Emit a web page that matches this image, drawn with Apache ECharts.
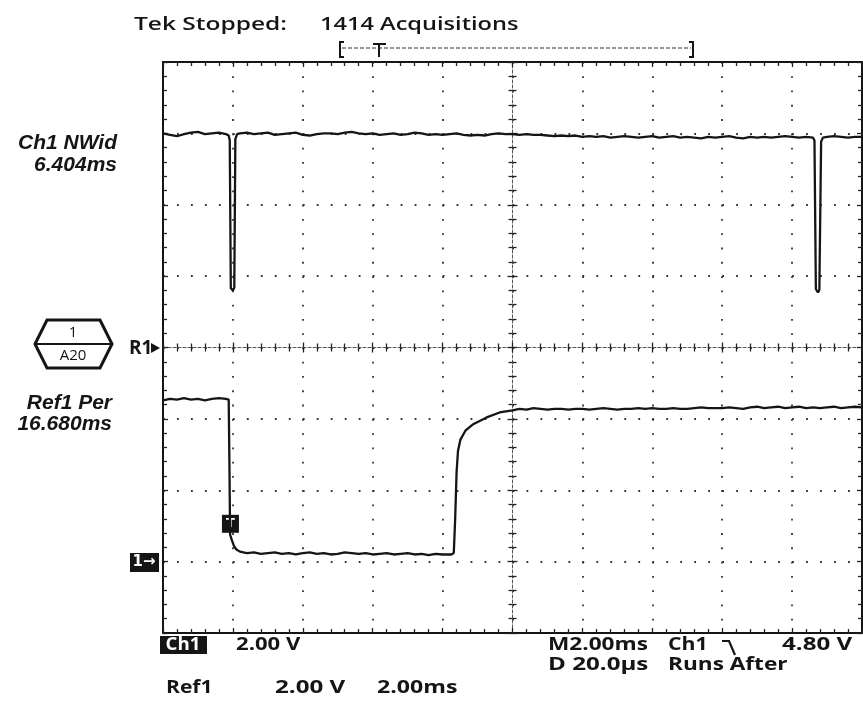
<!DOCTYPE html>
<html><head><meta charset="utf-8">
<script src="https://cdn.jsdelivr.net/npm/echarts@6/dist/echarts.min.js"></script>
<style>html,body{margin:0;padding:0;background:#fff;}#c{width:863px;height:702px;}</style>
</head><body><div id="c"></div>
<script>
// ---- data (time in ms, amplitude in screen divisions from centre) ----
const ch1Time = [0,0.2,0.4,0.6,0.8,1.0,1.2,1.4,1.6,1.8,1.88,1.91,1.94,2.00,2.04,2.07,2.12,
  2.2,2.4,2.6,2.8,3.0,3.2,3.4,3.6,3.8,4.0,4.2,4.4,4.6,4.8,5.0,5.2,5.4,5.6,5.8,6.0,6.2,6.4,6.6,6.8,
  7.0,7.2,7.4,7.6,7.8,8.0,8.2,8.4,8.6,8.8,9.0,9.2,9.4,9.6,9.8,10.0,10.2,10.4,10.6,10.8,11.0,11.2,
  11.4,11.6,11.8,12.0,12.2,12.4,12.6,12.8,13.0,13.2,13.4,13.6,13.8,14.0,14.2,14.4,14.6,14.8,15.0,
  15.2,15.4,15.6,15.8,16.0,16.2,16.4,16.6,16.8,17.0,17.2,17.4,17.6,17.8,18.0,18.2,18.4,18.6,
  18.64,18.68,18.74,18.78,18.83,18.88,19.0,19.2,19.4,19.6,19.8,20.0];
const ch1Div = [3.00,2.98,2.96,2.99,3.01,3.02,2.99,3.00,3.01,2.99,2.97,2.90,0.83,0.80,0.84,2.92,2.99,
  3.00,3.01,2.99,3.00,3.01,2.98,2.99,3.00,3.01,2.98,2.97,2.99,3.00,3.00,2.99,3.01,3.02,3.00,2.99,3.00,2.98,2.99,3.00,2.98,
  2.99,3.01,3.00,2.98,2.99,2.98,2.99,3.00,2.98,2.97,2.98,2.97,2.99,3.00,2.99,2.99,2.98,2.99,2.98,2.98,2.97,2.96,
  2.97,2.96,2.97,2.95,2.96,2.95,2.96,2.94,2.95,2.96,2.95,2.94,2.95,2.96,2.94,2.95,2.96,2.94,2.95,
  2.94,2.93,2.95,2.94,2.95,2.96,2.94,2.93,2.95,2.94,2.95,2.94,2.95,2.96,2.95,2.94,2.95,2.94,
  2.90,0.82,0.77,0.81,2.88,2.94,2.95,2.96,2.95,2.94,2.95,2.95];

const ref1Time = [0,0.2,0.4,0.6,0.8,1.0,1.2,1.4,1.6,1.8,1.88,1.90,1.92,1.97,2.03,2.10,
  2.2,2.4,2.6,2.8,3.0,3.2,3.4,3.6,3.8,4.0,4.2,4.4,4.6,4.8,5.0,5.2,5.4,5.6,5.8,6.0,6.2,6.4,6.6,6.8,
  7.0,7.2,7.4,7.6,7.8,8.0,8.25,8.32,8.36,8.40,8.44,8.51,8.66,8.86,9.26,9.63,
  10.0,10.2,10.4,10.6,10.8,11.0,11.2,11.4,11.6,11.8,12.0,12.2,12.4,12.6,12.8,13.0,13.2,13.4,13.6,13.8,
  14.0,14.2,14.4,14.6,14.8,15.0,15.2,15.4,15.6,15.8,16.0,16.2,16.4,16.6,16.8,17.0,17.2,17.4,17.6,17.8,
  18.0,18.2,18.4,18.6,18.8,19.0,19.2,19.4,19.6,19.8,20.0];
const ref1Div = [-0.74,-0.72,-0.73,-0.71,-0.73,-0.72,-0.74,-0.72,-0.71,-0.72,-0.73,-1.60,-2.62,-2.70,-2.78,-2.83,
  -2.86,-2.88,-2.87,-2.89,-2.88,-2.87,-2.89,-2.88,-2.90,-2.88,-2.87,-2.89,-2.88,-2.90,-2.89,-2.87,-2.88,-2.89,-2.88,-2.90,-2.89,-2.88,-2.90,-2.89,
  -2.88,-2.90,-2.89,-2.91,-2.89,-2.90,-2.90,-2.88,-2.40,-1.75,-1.45,-1.29,-1.16,-1.08,-0.98,-0.91,
  -0.88,-0.86,-0.87,-0.85,-0.86,-0.87,-0.86,-0.86,-0.87,-0.86,-0.86,-0.87,-0.86,-0.85,-0.86,-0.87,-0.86,-0.86,-0.85,-0.86,
  -0.85,-0.86,-0.86,-0.85,-0.86,-0.86,-0.85,-0.84,-0.85,-0.85,-0.85,-0.84,-0.85,-0.86,-0.84,-0.83,-0.85,-0.84,-0.83,-0.85,
  -0.84,-0.83,-0.85,-0.84,-0.85,-0.84,-0.83,-0.85,-0.84,-0.83,-0.84];

const triggerMark = [1.93, -2.47];   // "T" box on the Ref1 edge

const X_MIN = 0, X_MAX = 20, X_STEP = 2;   // 2.00 ms/div, 10 div
const Y_MIN = -4, Y_MAX = 4, Y_STEP = 1;   // 8 div

// ---- layout ----
const G = {left: 163, top: 62, width: 699, height: 571};
const INK = '#151515';
const tickStyle = {color: '#222', width: 1.3};

function xAx(pos, offset, inside, line, split) {
  return {
    type: 'value', min: X_MIN, max: X_MAX, interval: X_STEP, position: pos, offset: offset,
    axisLabel: {show: false},
    axisLine: {show: !!line, onZero: false, lineStyle: line || {}},
    axisTick: {show: true, inside: inside, length: 5, lineStyle: tickStyle},
    minorTick: {show: true, splitNumber: 5, length: 4, lineStyle: tickStyle},
    splitLine: split ? {show: true, lineStyle: {color: '#333', width: 1.8, type: [1.8, 12.475]}} : {show: false}
  };
}
function yAx(pos, offset, inside, line, split) {
  return {
    type: 'value', min: Y_MIN, max: Y_MAX, interval: Y_STEP, position: pos, offset: offset,
    axisLabel: {show: false},
    axisLine: {show: !!line, onZero: false, lineStyle: line || {}},
    axisTick: {show: true, inside: inside, length: 5, lineStyle: tickStyle},
    minorTick: {show: true, splitNumber: 5, length: 4, lineStyle: tickStyle},
    splitLine: split ? {show: true, lineStyle: {color: '#333', width: 1.8, type: [1.8, 12.18]}} : {show: false}
  };
}
const frame = {color: INK, width: 2};
const centre = {color: '#555', width: 1, type: [3, 2]};

function zip(t, v) { return t.map((x, i) => [x, v[i]]); }

const SANS = '"Open Sans", sans-serif';
const BOLD = 'bold 17px "Open Sans", sans-serif';
function txt(x, y, s, opt) {
  opt = opt || {};
  return {
    type: 'text', x: x, y: y, scaleX: opt.sx || 1, z: 100,
    style: {
      text: s, x: 0, y: 0,
      font: opt.font || BOLD,
      fill: opt.fill || INK,
      align: opt.align || 'left', textAlign: opt.align || 'left',
      verticalAlign: 'middle', textVerticalAlign: 'middle'
    }
  };
}
const ITAL = 'italic bold 21px "Liberation Sans", Arial, sans-serif';
const HEAD = '600 18px "Open Sans", sans-serif';

const graphics = [
  // header
  txt(134, 25, 'Tek Stopped:', {font: HEAD, sx: 1.36}),
  txt(320, 25, '1414 Acquisitions', {font: HEAD, sx: 1.31}),
  {type: 'polyline', shape: {points: [[344, 42], [340, 42], [340, 57], [344, 57]]}, style: {stroke: INK, lineWidth: 2, fill: null}},
  {type: 'polyline', shape: {points: [[689, 42], [693, 42], [693, 57], [689, 57]]}, style: {stroke: INK, lineWidth: 2, fill: null}},
  {type: 'line', shape: {x1: 342, y1: 48, x2: 691, y2: 48}, style: {stroke: '#333', lineWidth: 1, lineDash: [4, 2]}},
  {type: 'line', shape: {x1: 373, y1: 44, x2: 386, y2: 44}, style: {stroke: INK, lineWidth: 2}},
  {type: 'line', shape: {x1: 379, y1: 44, x2: 379, y2: 57}, style: {stroke: INK, lineWidth: 2}},
  // left readouts
  txt(117, 143, 'Ch1 NWid', {font: ITAL, align: 'right'}),
  txt(117, 165, '6.404ms', {font: ITAL, align: 'right'}),
  txt(112, 403, 'Ref1 Per', {font: ITAL, align: 'right'}),
  txt(112, 424, '16.680ms', {font: ITAL, align: 'right'}),
  // hexagon badge
  {type: 'polygon', shape: {points: [[47, 320], [100, 320], [112, 344], [100, 368], [47, 368], [35, 344]]},
   style: {stroke: INK, lineWidth: 3, fill: '#fff'}},
  {type: 'line', shape: {x1: 36, y1: 344, x2: 111, y2: 344}, style: {stroke: INK, lineWidth: 2}},
  txt(73, 333, '1', {font: '15px ' + SANS, align: 'center'}),
  txt(73, 356, 'A20', {font: '15px ' + SANS, align: 'center'}),
  // R1 marker
  txt(129, 349, 'R1', {font: 'bold 19px ' + SANS}),
  {type: 'polygon', shape: {points: [[151, 343], [160, 348], [151, 353]]}, style: {fill: INK}},
  // Ch1 ground marker
  {type: 'rect', shape: {x: 130, y: 553, width: 29, height: 19}, style: {fill: INK}},
  txt(144, 562, '1\u2192', {font: 'bold 15px "DejaVu Sans", sans-serif', fill: '#fff', align: 'center'}),
  // bottom readouts
  {type: 'rect', shape: {x: 160, y: 636, width: 47, height: 18}, style: {fill: INK}},
  txt(183, 645, 'Ch1', {font: 'bold 17px ' + SANS, fill: '#fff', align: 'center', sx: 1.1}),
  txt(236, 645, '2.00 V', {sx: 1.3}),
  txt(548, 645, 'M2.00ms', {sx: 1.33}),
  txt(668, 645, 'Ch1', {sx: 1.25}),
  {type: 'polyline', shape: {points: [[722, 641], [729, 641], [735, 655]]}, style: {stroke: INK, lineWidth: 2.2, fill: null}},
  txt(782, 645, '4.80 V', {sx: 1.42}),
  txt(548, 665, 'D 20.0\u00b5s', {sx: 1.42}),
  txt(668, 665, 'Runs After', {sx: 1.33}),
  txt(166, 688, 'Ref1', {sx: 1.24}),
  txt(275, 688, '2.00 V', {sx: 1.42}),
  txt(377, 688, '2.00ms', {sx: 1.36})
];

const chart = echarts.init(document.getElementById('c'), null, {renderer: 'canvas'});
chart.setOption({
  animation: false,
  backgroundColor: '#fff',
  grid: {left: G.left, top: G.top, width: G.width, height: G.height, containLabel: false},
  xAxis: [
    xAx('bottom', 0, true, frame, true),
    xAx('top', 0, true, frame, false),
    xAx('bottom', -G.height / 2, true, centre, false),
    xAx('bottom', -G.height / 2, false, null, false)
  ],
  yAxis: [
    yAx('left', 0, true, frame, true),
    yAx('right', 0, true, frame, false),
    yAx('left', -G.width / 2, true, centre, false),
    yAx('left', -G.width / 2, false, null, false)
  ],
  series: [
    {name: 'Ch1', type: 'line', data: zip(ch1Time, ch1Div), xAxisIndex: 0, yAxisIndex: 0,
     showSymbol: false, symbol: 'none', lineStyle: {color: INK, width: 2.3}, z: 5},
    {name: 'Ref1', type: 'line', data: zip(ref1Time, ref1Div), xAxisIndex: 0, yAxisIndex: 0,
     showSymbol: false, symbol: 'none', lineStyle: {color: INK, width: 2.3}, z: 5,
     markPoint: {symbol: 'rect', symbolSize: [17, 18], silent: true,
       itemStyle: {color: INK},
       label: {show: true, position: 'inside', formatter: 'T', color: '#fff', fontSize: 13, fontWeight: 'bold', fontFamily: 'DejaVu Sans'},
       data: [{coord: triggerMark}]}}
  ],
  graphic: graphics
});
</script></body></html>
